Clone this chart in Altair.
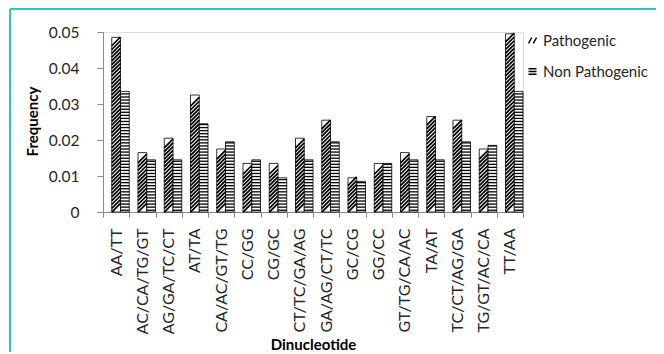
import altair as alt
import pandas as pd

categories = ["AA/TT", "AC/CA/TG/GT", "AG/GA/TC/CT", "AT/TA", "CA/AC/GT/TG", "CC/GG",
              "CG/GC", "CT/TC/GA/AG", "GA/AG/CT/TC", "GC/CG", "GG/CC", "GT/TG/CA/AC",
              "TA/AT", "TC/CT/AG/GA", "TG/GT/AC/CA", "TT/AA"]
pathogenic = [0.0485, 0.0165, 0.0205, 0.0325, 0.0175, 0.0135, 0.0135, 0.0205,
              0.0255, 0.0095, 0.0135, 0.0165, 0.0265, 0.0255, 0.0175, 0.0495]
non_pathogenic = [0.0335, 0.0145, 0.0145, 0.0245, 0.0195, 0.0145, 0.0095, 0.0145,
                  0.0195, 0.0085, 0.0135, 0.0145, 0.0145, 0.0195, 0.0185, 0.0335]
series_names = ["Pathogenic", "Non Pathogenic"]
y_ticks = [0, 0.01, 0.02, 0.03, 0.04, 0.05]

rows = []
for c, p, n in zip(categories, pathogenic, non_pathogenic):
    rows.append({"cat": c, "series": series_names[0], "value": p})
    rows.append({"cat": c, "series": series_names[1], "value": n})
df = pd.DataFrame(rows)

FONT = "Lato"
TXT = "#262626"
GRAY = "#8a8a8a"
BAR_W = 420 / len(categories) / 3
SYM = BAR_W * BAR_W

x_enc = alt.X("cat:N", sort=categories,
              scale=alt.Scale(paddingInner=0, paddingOuter=0),
              axis=alt.Axis(labelAngle=-90, labelFontSize=16, labelColor=TXT, labelFont=FONT,
                            tickBand="extent", tickSize=5, tickColor=GRAY, domainColor=GRAY,
                            labelPadding=11, title="Dinucleotide", titleFontSize=15,
                            titleFont=FONT, titleFontWeight="bold", titleColor="black",
                            titleY=125, titleBaseline="top"))
xo_enc = alt.XOffset("series:N",
                     scale=alt.Scale(domain=["_gap"] + series_names, paddingInner=0, paddingOuter=0))
y_scale = alt.Scale(domain=[0, 0.05], nice=False)
y_axis = alt.Axis(values=y_ticks, format=".2~f", labelFontSize=15.5, labelColor=TXT, labelFont=FONT,
                  tickSize=6, tickColor=GRAY, domainColor=GRAY, labelPadding=18, grid=False,
                  title="Frequency", titleFontSize=15, titleFont=FONT, titleFontWeight="bold",
                  titleColor="black", titleX=-63, titleY=89)

base = alt.Chart(df)

bars = base.mark_bar(fill="white", stroke="black", strokeWidth=0.8).encode(
    x=x_enc, xOffset=xo_enc, y=alt.Y("value:Q", scale=y_scale, axis=y_axis))

diag = base.transform_filter(alt.datum.series == "Pathogenic").transform_calculate(
    lv="sequence(0.0012, datum.value - 0.0009, 0.00105)").transform_flatten(["lv"]).mark_point(
    shape="M-1,1L1,-1", size=SYM, filled=False, color="black", strokeWidth=1.7, opacity=1).encode(
    x=x_enc, xOffset=xo_enc, y=alt.Y("lv:Q", scale=y_scale, axis=y_axis))

horiz = base.transform_filter(alt.datum.series == "Non Pathogenic").transform_calculate(
    lv="sequence(0.0005, datum.value, 0.00085)").transform_flatten(["lv"]).mark_point(
    shape="M-1,0L1,0", size=SYM, filled=False, color="black", strokeWidth=1.3, opacity=1).encode(
    x=x_enc, xOffset=xo_enc, y=alt.Y("lv:Q", scale=y_scale, axis=y_axis))

legend_layer = base.transform_filter("false").mark_point(
    filled=False, color="black", opacity=1, strokeWidth=1.4).encode(
    shape=alt.Shape("series:N",
                    scale=alt.Scale(domain=series_names,
                                    range=["M-1,0.7L-0.2,-0.7M0.2,0.7L1,-0.7",
                                           "M-1,-0.7L1,-0.7M-1,0L1,0M-1,0.7L1,0.7"]),
                    legend=alt.Legend(title=None, orient="none", legendX=422, legendY=1,
                                      labelFont=FONT, labelFontSize=15, labelColor=TXT,
                                      symbolSize=64, symbolStrokeWidth=1.4,
                                      symbolStrokeColor="black", symbolFillColor="transparent",
                                      rowPadding=15, labelOffset=3, labelLimit=200)))

frame = pd.DataFrame({"k": [0]})
top_border = alt.Chart(frame).mark_rule(color="#2EC8B6", strokeWidth=2).encode(
    x=alt.value(-93), x2=alt.value(600), y=alt.value(-23))
left_border = alt.Chart(frame).mark_rule(color="#2EC8B6", strokeWidth=2).encode(
    x=alt.value(-93), y=alt.value(-23), y2=alt.value(400))

chart = alt.layer(bars, diag, horiz, legend_layer, top_border, left_border).properties(
    width=420, height=180,
    padding={"left": 95, "top": 24, "right": 133, "bottom": 140},
    autosize="none", background="white"
).configure_view(stroke=None).configure(font=FONT)

chart.save("out.html", embed_options={"renderer": "svg", "actions": False})
